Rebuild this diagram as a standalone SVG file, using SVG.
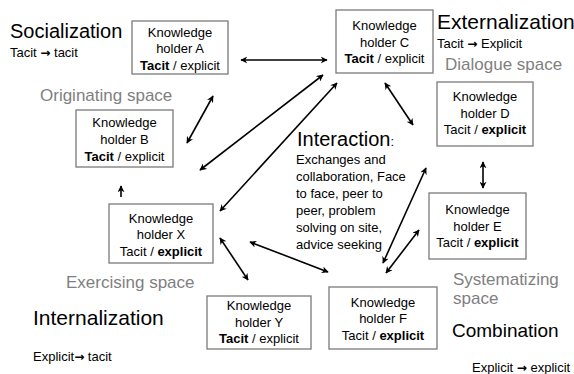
<svg xmlns="http://www.w3.org/2000/svg" width="574" height="374" viewBox="0 0 574 374">
<defs>
<marker id="ah" viewBox="0 0 10 10" refX="9" refY="5" markerWidth="7" markerHeight="7" orient="auto-start-reverse" markerUnits="userSpaceOnUse">
<path d="M0,0 L10,5 L0,10 L3,5 z" fill="#000"/>
</marker>
<style>
text{font-family:"Liberation Sans",Arial,sans-serif;fill:#000}
.box{fill:#fff;stroke:#7a7a7a;stroke-width:1.3}
.bt{font-size:13px;text-anchor:middle}
.b{font-weight:bold}
.h{font-size:20px}
.s{font-size:17px;fill:#7f7f7f}
.sm{font-size:13px}
.ar{font-family:"DejaVu Sans",sans-serif;font-weight:bold;font-size:12px}
.c{stroke:#000;stroke-width:1.6;fill:none;marker-end:url(#ah)}
.d{marker-start:url(#ah)}
</style>
</defs>
<rect width="574" height="374" fill="#fff"/>

<g id="labels">
<text x="10" y="38" class="h">Socialization</text>
<text x="10" y="57" class="sm">Tacit <tspan class="ar">→</tspan> tacit</text>
<text x="40" y="101" class="s">Originating space</text>
<text x="437" y="29" class="h" style="font-size:21px">Externalization</text>
<text x="437" y="48" class="sm">Tacit <tspan class="ar">→</tspan> Explicit</text>
<text x="445" y="70" class="s">Dialogue space</text>
<text x="66" y="288" class="s">Exercising space</text>
<text x="33" y="325" class="h" style="font-size:21px">Internalization</text>
<text x="33" y="361" class="sm">Explicit<tspan class="ar">→</tspan> tacit</text>
<text x="453" y="285" class="s">Systematizing</text>
<text x="453" y="304" class="s">space</text>
<text x="452" y="337" class="h" style="font-size:19px">Combination</text>
<text x="472" y="372" class="sm">Explicit <tspan class="ar">→</tspan> explicit</text>
</g>

<g id="interaction">
<text x="297" y="146" style="font-size:20px">Interaction<tspan style="font-size:13px">:</tspan></text>
<text x="296" y="164" class="sm">Exchanges and</text>
<text x="296" y="181" class="sm">collaboration, Face</text>
<text x="296" y="198" class="sm">to face, peer to</text>
<text x="296" y="215" class="sm">peer, problem</text>
<text x="296" y="232" class="sm">solving on site,</text>
<text x="296" y="249" class="sm">advice seeking</text>
</g>

<g id="nodeA">
<rect class="box" x="132" y="21" width="96" height="53"/>
<text class="bt" x="180" y="37">Knowledge</text>
<text class="bt" x="180" y="53">holder A</text>
<text class="bt" x="180" y="70"><tspan class="b">Tacit</tspan> / explicit</text>
</g>
<g id="nodeB">
<rect class="box" x="76" y="110" width="97" height="57"/>
<text class="bt" x="124.5" y="127">Knowledge</text>
<text class="bt" x="124.5" y="144">holder B</text>
<text class="bt" x="124.5" y="161"><tspan class="b">Tacit</tspan> / explicit</text>
</g>
<g id="nodeC">
<rect class="box" x="336" y="10" width="97" height="63"/>
<text class="bt" x="384.5" y="30">Knowledge</text>
<text class="bt" x="384.5" y="47">holder C</text>
<text class="bt" x="384.5" y="63"><tspan class="b">Tacit</tspan> / explicit</text>
</g>
<g id="nodeD">
<rect class="box" x="437" y="82" width="96" height="64"/>
<text class="bt" x="485" y="101">Knowledge</text>
<text class="bt" x="485" y="118">holder D</text>
<text class="bt" x="485" y="134">Tacit / <tspan class="b">explicit</tspan></text>
</g>
<g id="nodeE">
<rect class="box" x="429" y="193" width="97" height="66"/>
<text class="bt" x="477.5" y="214">Knowledge</text>
<text class="bt" x="477.5" y="231">holder E</text>
<text class="bt" x="477.5" y="247">Tacit / <tspan class="b">explicit</tspan></text>
</g>
<g id="nodeX">
<rect class="box" x="109" y="204" width="104" height="59"/>
<text class="bt" x="161" y="223">Knowledge</text>
<text class="bt" x="161" y="239">holder X</text>
<text class="bt" x="161" y="256">Tacit / <tspan class="b">explicit</tspan></text>
</g>
<g id="nodeY">
<rect class="box" x="207" y="296" width="104" height="53"/>
<text class="bt" x="259" y="310">Knowledge</text>
<text class="bt" x="259" y="327">holder Y</text>
<text class="bt" x="259" y="343"><tspan class="b">Tacit</tspan> / explicit</text>
</g>
<g id="nodeF">
<rect class="box" x="329" y="287" width="108" height="62"/>
<text class="bt" x="383" y="307">Knowledge</text>
<text class="bt" x="383" y="323">holder F</text>
<text class="bt" x="383" y="340">Tacit / <tspan class="b">explicit</tspan></text>
</g>

<g id="connectors">
<line class="c d" x1="241" y1="60" x2="327" y2="60"/>
<line class="c d" x1="213" y1="96" x2="187" y2="143"/>
<line class="c d" x1="323" y1="75" x2="200" y2="170"/>
<line class="c d" x1="337" y1="83" x2="220" y2="211"/>
<line class="c" x1="121" y1="197" x2="121" y2="186"/>
<line class="c d" x1="220" y1="238" x2="248" y2="280"/>
<line class="c d" x1="250" y1="242" x2="328" y2="272"/>
<line class="c d" x1="385" y1="83" x2="413" y2="125"/>
<line class="c d" x1="483" y1="162" x2="483" y2="188"/>
<line class="c d" x1="383" y1="263" x2="426" y2="168"/>
<line class="c d" x1="386" y1="273" x2="419" y2="230"/>
</g>
</svg>
